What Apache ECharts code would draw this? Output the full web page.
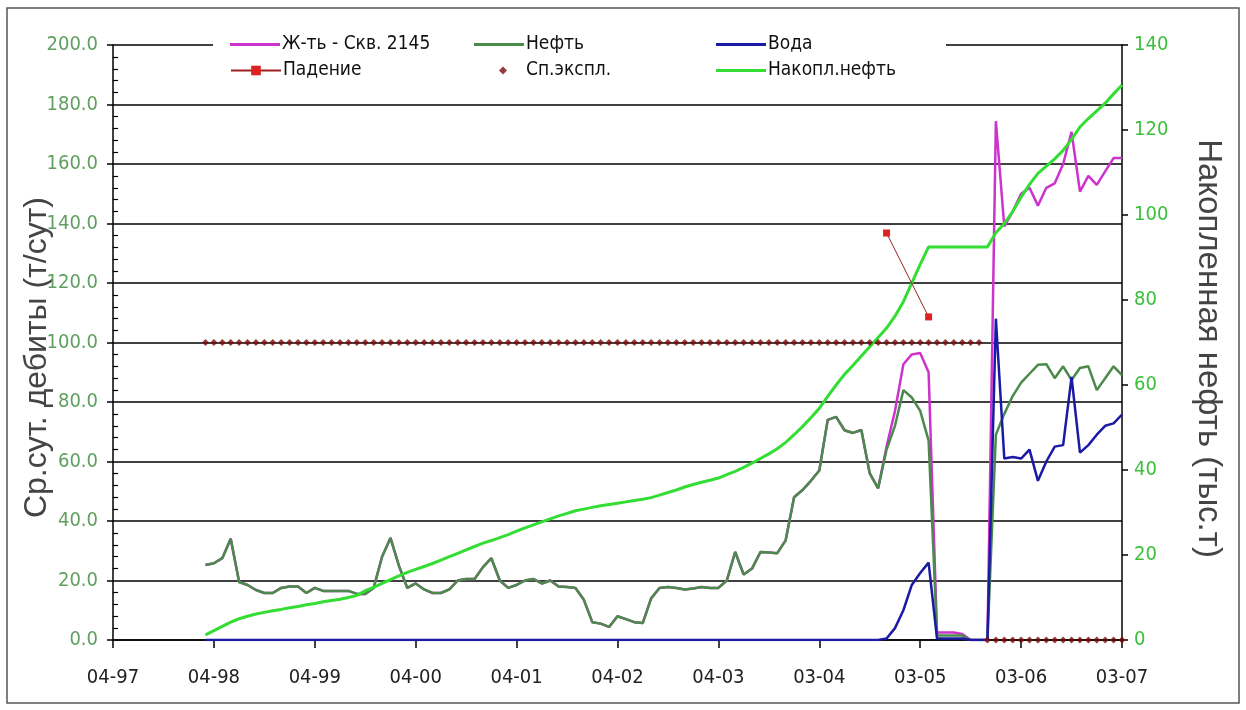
<!DOCTYPE html>
<html>
<head>
<meta charset="utf-8">
<script src="https://cdn.jsdelivr.net/npm/echarts@6/dist/echarts.min.js"></script>
<style>
html, body { margin: 0; padding: 0; background: #fff; }
#chart { width: 1246px; height: 710px; }
</style>
</head>
<body>
<div id="chart"></div>
<script>
// подписи оси X (по годам, шаг 12 мес.)
var tickLabels = ['04-97','04-98','04-99','04-00','04-01','04-02','04-03','03-04','03-05','03-06','03-07'];
var firstMonth = 11;   // первая точка - 11-й месяц от 04-97

// жидкость, т/сут
var liquid = [
	25.2, 25.8, 27.5, 34, 19.5, 18.5, 16.8, 15.8, 15.8, 17.5,
	18, 18, 15.8, 17.5, 16.5, 16.5, 16.5, 16.5, 15.5, 15.5,
	17.5, 28, 34.3, 25, 17.5, 19, 17, 15.8, 15.8, 17,
	20, 20.5, 20.5, 24.5, 27.5, 20, 17.5, 18.5, 20, 20.5,
	19, 20, 18, 17.8, 17.5, 13.5, 6, 5.5, 4.4, 8,
	7, 6, 5.7, 14, 17.5, 17.8, 17.5, 17, 17.3, 17.8,
	17.5, 17.5, 20, 29.6, 22, 24, 29.6, 29.4, 29.2, 33.5,
	48, 50.4, 53.5, 57, 74, 75, 70.5, 69.6, 70.6, 56,
	51, 65, 77, 92.7, 96, 96.5, 90, 2.5, 2.5, 2.5,
	2, 0, 0, 0, 174.4, 139, 144, 150, 152, 146,
	152, 153.5, 160, 170.8, 150.7, 156, 153, 157.5, 162, 162
];
// нефть, т/сут
var oil = [
	25.2, 25.8, 27.5, 34, 19.5, 18.5, 16.8, 15.8, 15.8, 17.5,
	18, 18, 15.8, 17.5, 16.5, 16.5, 16.5, 16.5, 15.5, 15.5,
	17.5, 28, 34.3, 25, 17.5, 19, 17, 15.8, 15.8, 17,
	20, 20.5, 20.5, 24.5, 27.5, 20, 17.5, 18.5, 20, 20.5,
	19, 20, 18, 17.8, 17.5, 13.5, 6, 5.5, 4.4, 8,
	7, 6, 5.7, 14, 17.5, 17.8, 17.5, 17, 17.3, 17.8,
	17.5, 17.5, 20, 29.6, 22, 24, 29.6, 29.4, 29.2, 33.5,
	48, 50.4, 53.5, 57, 74, 75, 70.5, 69.6, 70.6, 56,
	51, 64, 72, 84, 81.5, 77, 67, 1.5, 1.5, 1.5,
	1.5, 0, 0, 0, 69, 76, 82, 86.5, 89.5, 92.5,
	92.7, 88, 92, 87.4, 91.4, 92, 84, 88, 92, 89
];
// вода, т/сут
var water = [
	0, 0, 0, 0, 0, 0, 0, 0, 0, 0,
	0, 0, 0, 0, 0, 0, 0, 0, 0, 0,
	0, 0, 0, 0, 0, 0, 0, 0, 0, 0,
	0, 0, 0, 0, 0, 0, 0, 0, 0, 0,
	0, 0, 0, 0, 0, 0, 0, 0, 0, 0,
	0, 0, 0, 0, 0, 0, 0, 0, 0, 0,
	0, 0, 0, 0, 0, 0, 0, 0, 0, 0,
	0, 0, 0, 0, 0, 0, 0, 0, 0, 0,
	0, 0.5, 4, 10, 18.5, 22.5, 26, 0.5, 0.5, 0.5,
	0.5, 0, 0, 0, 108, 61, 61.5, 61, 64, 53.5,
	60, 65, 65.5, 88.4, 63, 65.5, 69, 72, 72.8, 75.8
];
// накопленная нефть, тыс.т
var cumOil = [
	1.2, 2.2, 3.2, 4.2, 5.0, 5.6, 6.1, 6.5, 6.9, 7.2,
	7.6, 7.9, 8.3, 8.6, 9.0, 9.3, 9.6, 10.0, 10.5, 11.6,
	12.4, 13.3, 14.2, 15.1, 15.9, 16.6, 17.3, 18.0, 18.8, 19.6,
	20.4, 21.2, 22.0, 22.8, 23.4, 24.1, 24.8, 25.6, 26.4, 27.1,
	27.8, 28.5, 29.2, 29.8, 30.4, 30.8, 31.2, 31.6, 31.9, 32.2,
	32.5, 32.8, 33.1, 33.5, 34.1, 34.7, 35.3, 36.0, 36.6, 37.1,
	37.6, 38.1, 38.9, 39.7, 40.6, 41.6, 42.7, 43.8, 45.0, 46.5,
	48.3, 50.2, 52.3, 54.5, 57.3, 60.0, 62.5, 64.6, 66.8, 69.0,
	71.2, 73.4, 76.2, 79.6, 84.0, 88.4, 92.5, 92.5, 92.5, 92.5,
	92.5, 92.5, 92.5, 92.5, 95.8, 98.0, 100.8, 104.2, 107.2, 109.8,
	111.5, 113.2, 115.2, 117.8, 120.7, 122.7, 124.5, 126.3, 128.5, 130.6
];
// способ эксплуатации (маркер)
var spExpl = [
	100, 100, 100, 100, 100, 100, 100, 100, 100, 100,
	100, 100, 100, 100, 100, 100, 100, 100, 100, 100,
	100, 100, 100, 100, 100, 100, 100, 100, 100, 100,
	100, 100, 100, 100, 100, 100, 100, 100, 100, 100,
	100, 100, 100, 100, 100, 100, 100, 100, 100, 100,
	100, 100, 100, 100, 100, 100, 100, 100, 100, 100,
	100, 100, 100, 100, 100, 100, 100, 100, 100, 100,
	100, 100, 100, 100, 100, 100, 100, 100, 100, 100,
	100, 100, 100, 100, 100, 100, 100, 100, 100, 100,
	100, 100, 100, 0, 0, 0, 0, 0, 0, 0,
	0, 0, 0, 0, 0, 0, 0, 0, 0, 0
];
// падение
var fallMonths = [92, 97];
var fallValues = [136.8, 108.6];

var narrow = "'Liberation Sans Narrow', 'Arial Narrow', 'DejaVu Sans Condensed', sans-serif";
var regular = "'Liberation Sans', Arial, sans-serif";

function toPairs(arr) {
	var out = [];
	for (var i = 0; i < arr.length; i++) {
		out.push([firstMonth + i, arr[i]]);
	}
	return out;
}
var fallData = [];
for (var i = 0; i < fallMonths.length; i++) {
	fallData.push([fallMonths[i], fallValues[i]]);
}

//одна запись легенды в своей позиции (3 колонки x 2 строки)
function legendBox(name, left, top, extra) {
	var l = {
		data: [name],
		left: left,
		top: top,
		orient: 'horizontal',
		itemWidth: 50,
		itemHeight: 3,
		icon: 'rect',
		padding: 0,
		selectedMode: false,
		textStyle: { fontFamily: narrow, fontSize: 19, color: '#111', padding: [0, 0, 0, -3] }
	};
	if (extra) {
		for (var k in extra) l[k] = extra[k];
	}
	return l;
}

var chart = echarts.init(document.getElementById('chart'));
var option = {
	animation: false,
	backgroundColor: '#fff',
	grid: { left: 113, right: 124, top: 45, bottom: 70 },
	legend: [
		legendBox('Ж-ть - Скв. 2145', 230, 35),
		legendBox('Нефть', 474, 35),
		legendBox('Вода', 716, 35),
		legendBox('Падение', 230, 61, { icon: null, itemHeight: 12 }),
		legendBox('Сп.экспл.', 499, 61, {
			icon: 'diamond', itemWidth: 8, itemHeight: 8,
			textStyle: { fontFamily: narrow, fontSize: 19, color: '#111', padding: [0, 0, 0, 14] }
		}),
		legendBox('Накопл.нефть', 716, 61)
	],
	graphic: [
		{
			type: 'rect', z: 3, silent: true,
			shape: { x: 213, y: 25, width: 733, height: 65 },
			style: { fill: '#fff', stroke: null }
		},
		{
			type: 'rect', z: 10, silent: true,
			shape: { x: 7, y: 8, width: 1232, height: 695 },
			style: { fill: 'none', stroke: '#555', lineWidth: 1.5 }
		}
	],
	xAxis: {
		type: 'value',
		min: 0,
		max: 120,
		interval: 12,
		axisLine: { lineStyle: { color: '#000', width: 1.5 } },
		axisTick: { inside: false, length: 8, lineStyle: { color: '#000', width: 1.5 } },
		splitLine: { show: false },
		axisLabel: {
			margin: 28,
			fontFamily: narrow,
			fontSize: 20,
			color: '#222',
			formatter: function (v) { return tickLabels[Math.round(v / 12)]; }
		}
	},
	yAxis: [
		{
			type: 'value',
			position: 'left',
			min: 0,
			max: 200,
			interval: 20,
			name: 'Ср.сут. дебиты (т/сут)',
			nameLocation: 'middle',
			nameGap: 60,
			nameMoveOverlap: false,
			nameTextStyle: { fontFamily: regular, fontSize: 32, color: '#444', padding: [0, 30, 0, 0] },
			axisLine: { show: true, lineStyle: { color: '#000', width: 1.5 } },
			axisTick: { show: true, inside: false, length: 6, lineStyle: { color: '#000', width: 1.5 } },
			splitLine: { show: true, lineStyle: { color: '#000', width: 1.5 } },
			axisLabel: {
				margin: 15,
				fontFamily: narrow,
				fontSize: 20,
				color: '#5f9f5f',
				formatter: function (v) { return v.toFixed(1); }
			}
		},
		{
			type: 'value',
			position: 'right',
			min: 0,
			max: 140,
			interval: 20,
			name: 'Накопленная нефть (тыс.т)',
			nameLocation: 'middle',
			nameRotate: -90,
			nameGap: 70,
			nameTextStyle: { fontFamily: regular, fontSize: 33, color: '#444', padding: [0, 0, 0, 12] },
			axisLine: { show: true, lineStyle: { color: '#000', width: 1.5 } },
			axisTick: { show: true, inside: false, length: 6, lineStyle: { color: '#000', width: 1.5 } },
			splitLine: { show: false },
			axisLabel: {
				margin: 12,
				fontFamily: narrow,
				fontSize: 20,
				color: '#3cc03c'
			}
		},
		{
			// только мелкие засечки слева
			type: 'value',
			position: 'left',
			min: 0,
			max: 200,
			interval: 20,
			axisLine: { show: false },
			axisLabel: { show: false },
			splitLine: { show: false },
			axisTick: { show: false, inside: true },
			minorTick: { show: true, splitNumber: 5, length: 5, lineStyle: { color: '#000', width: 1.2 } }
		}
	],
	series: [
		{
			name: 'Ж-ть - Скв. 2145',
			type: 'line',
			data: toPairs(liquid),
			symbol: 'none',
			z: 2,
			lineStyle: { color: '#cc33cc', width: 2.5 },
			itemStyle: { color: '#cc33cc' }
		},
		{
			name: 'Нефть',
			type: 'line',
			data: toPairs(oil),
			symbol: 'none',
			z: 3,
			lineStyle: { color: '#4a8a4a', width: 2.5 },
			itemStyle: { color: '#4a8a4a' }
		},
		{
			name: 'Вода',
			type: 'line',
			data: toPairs(water),
			symbol: 'none',
			z: 4,
			lineStyle: { color: '#1a1aa5', width: 2.5 },
			itemStyle: { color: '#1a1aa5' }
		},
		{
			name: 'Накопл.нефть',
			type: 'line',
			yAxisIndex: 1,
			data: toPairs(cumOil),
			symbol: 'none',
			z: 5,
			lineStyle: { color: '#33dd33', width: 3 },
			itemStyle: { color: '#33dd33' }
		},
		{
			name: 'Сп.экспл.',
			type: 'scatter',
			data: toPairs(spExpl),
			symbol: 'diamond',
			symbolSize: 7,
			z: 6,
			itemStyle: { color: '#7a0a0a' }
		},
		{
			name: 'Падение',
			type: 'line',
			data: fallData,
			symbol: 'rect',
			symbolSize: 7,
			showSymbol: true,
			z: 6,
			lineStyle: { color: '#a02020', width: 1 },
			itemStyle: { color: '#dd2222' }
		}
	]
};
chart.setOption(option);
</script>
</body>
</html>
